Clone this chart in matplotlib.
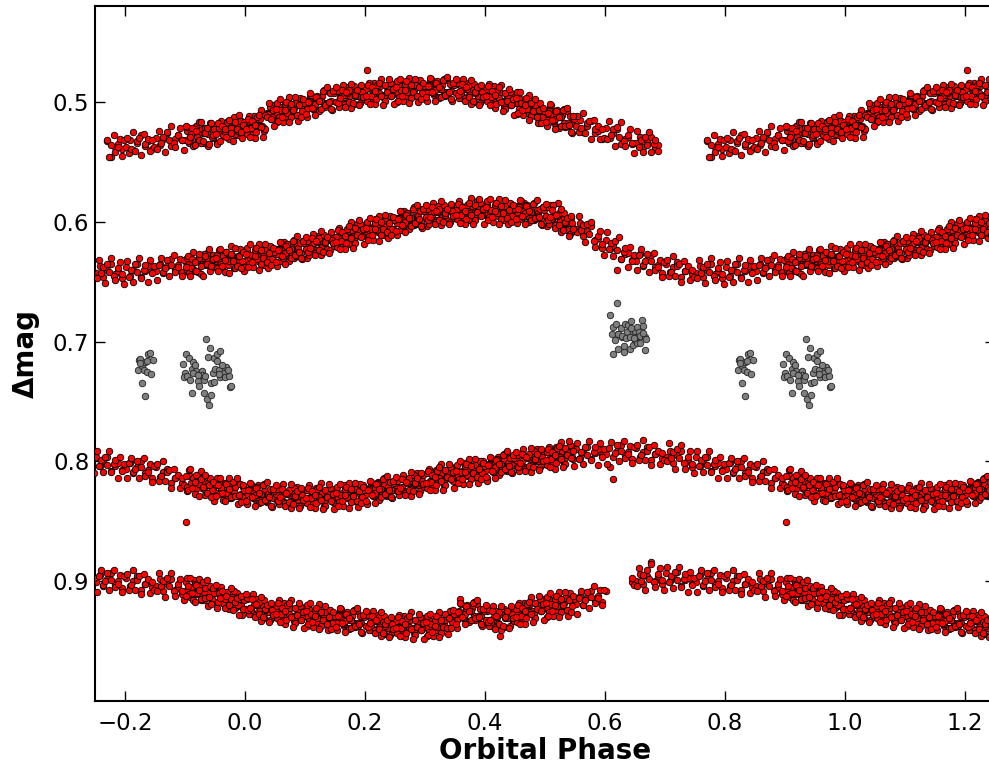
import numpy as np
import matplotlib
matplotlib.use("Agg")
import matplotlib.pyplot as plt

N = np.nan

# ---------------- observing run 1 ----------------
# phases in thousandths of the orbital period
PHASE1_MILLI = [
    1, 4, 8, 11, 15, 18, 22, 25, 29, 32, 36, 39, 43, 46,
    51, 54, 58, 61, 65, 68, 72, 75, 79, 82, 86, 89, 93, 96,
    101, 104, 108, 111, 115, 118, 122, 125, 129, 132, 136, 139, 143, 146,
    151, 154, 158, 161, 165, 168, 172, 175, 179, 182, 186, 189, 193, 196,
    201, 204, 208, 211, 215, 218, 222, 225, 229, 232, 236, 239, 243, 246,
    251, 254, 258, 261, 265, 268, 272, 275, 279, 282, 286, 289, 293, 296,
    301, 304, 308, 311, 315, 318, 322, 325, 329, 332, 336, 339, 343, 346,
    351, 354, 358, 361, 365, 368, 372, 375, 379, 382, 386, 389, 393, 396,
    401, 404, 408, 411, 415, 418, 422, 425, 429, 432, 436, 439, 443, 446,
    451, 454, 458, 461, 465, 468, 472, 475, 479, 482, 486, 489, 493, 496,
    501, 504, 508, 511, 515, 518, 522, 525, 529, 532, 536, 539, 543, 546,
    552, 558, 564, 570, 577, 583, 589, 595,
    602, 608, 614, 620, 627, 633, 639, 645,
    652, 658, 664, 670, 677, 683, 689, 695,
    702, 708, 714, 720, 727, 733, 739, 745,
    752, 758, 764, 770, 777, 783, 789, 795,
    802, 808, 814, 820, 827, 833, 839, 845,
    852, 858, 864, 870, 877, 883, 889, 895,
    901, 904, 908, 911, 915, 918, 922, 925, 929, 932, 936, 939, 943, 946,
    951, 954, 958, 961, 965, 968, 972, 975, 979, 982, 986, 989, 993, 996,
]

# delta mag (millimag) of the four light curves, NaN = no data
RUN1_CURVE1 = [
    517, 522, 527, 518, 512, 522, 519, 514, 520, 524, 509, 510, 514, 503,
    510, 517, 504, 510, 505, 512, 499, 506, 508, 502, 511, 503, 499, 505,
    501, 506, 496, 502, 506, 498, 507, 499, 495, 501, 491, 501, 499, 492,
    500, 492, 497, 502, 494, 488, 499, 495, 491, 502, 493, 495, 487, 498,
    489, 473, 500, 490, 484, 495, 492, 487, 494, 497, 488, 490, 495, 485,
    492, 500, 487, 492, 488, 495, 483, 490, 493, 487, 495, 488, 484, 491,
    487, 493, 483, 489, 494, 486, 496, 489, 486, 492, 482, 493, 491, 485,
    493, 485, 491, 497, 489, 484, 495, 492, 489, 500, 491, 495, 487, 498,
    489, 495, 501, 493, 487, 499, 496, 492, 499, 504, 495, 498, 503, 494,
    501, 510, 498, 504, 501, 509, 497, 505, 509, 504, 513, 507, 504, 512,
    508, 515, 505, 512, 518, 510, 521, 513, 511, 518, 508, 520, 518, 513,
    520, 515, 525, 520, 516, 526, 524, 531,
    522, 530, 526, 523, 535, 531, 529, 535,
    534, 529, 538, 533, 529, 538, 536, N,
    N, N, N, N, N, N, N, N,
    N, N, N, 533, 546, 538, 535, 539,
    538, 532, 540, 534, 528, 537, 533, 539,
    530, 536, 531, 526, 537, 531, 528, 532,
    532, 524, 529, 534, 526, 520, 531, 527, 523, 534, 525, 527, 519, 530,
    526, 534, 520, 526, 522, 528, 516, 523, 525, 519, 528, 520, 516, 523,
]
RUN1_CURVE2 = [
    633, 625, 630, 635, 627, 622, 633, 628, 625, 636, 627, 629, 621, 632,
    623, 627, 633, 624, 617, 628, 625, 619, 626, 630, 620, 622, 626, 616,
    623, 630, 617, 622, 618, 624, 612, 618, 621, 614, 623, 615, 611, 617,
    613, 618, 608, 613, 618, 609, 619, 610, 607, 612, 602, 612, 610, 603,
    611, 602, 608, 612, 604, 598, 609, 604, 601, 611, 602, 604, 596, 606,
    597, 601, 607, 598, 591, 602, 598, 593, 599, 603, 594, 595, 600, 589,
    596, 604, 591, 596, 592, 599, 587, 593, 596, 590, 599, 591, 587, 594,
    590, 596, 586, 592, 597, 589, 599, 590, 587, 593, 583, 594, 592, 586,
    594, 586, 592, 597, 589, 584, 595, 591, 588, 599, 590, 593, 585, 596,
    587, 592, 598, 590, 584, 595, 592, 588, 595, 599, 590, 593, 598, 588,
    595, 604, 586, 598, 595, 602, 584, 599, 603, 597, 607, 601, 597, 605,
    606, 601, 612, 608, 604, 615, 614, 622,
    615, 623, 620, 640, 631, 627, 626, 632,
    633, 627, 637, 632, 628, 638, 636, 643,
    635, 642, 638, 634, 646, 641, 639, 644,
    643, 637, 646, 640, 635, 644, 641, 647,
    638, 645, 640, 635, 646, 641, 637, 642,
    641, 635, 643, 637, 631, 640, 636, 642,
    634, 640, 630, 635, 640, 632, 642, 633, 630, 636, 626, 636, 634, 628,
    636, 628, 634, 638, 630, 625, 636, 631, 628, 639, 630, 632, 624, 635,
]
RUN1_CURVE3 = [
    827, 835, 823, 829, 825, 832, 820, 828, 831, 825, 834, 827, 824, 831,
    827, 833, 823, 829, 834, 826, 836, 828, 825, 831, 821, 832, 830, 824,
    832, 824, 830, 835, 827, 822, 833, 829, 826, 837, 828, 831, 823, 834,
    825, 830, 836, 826, 820, 831, 828, 822, 829, 833, 824, 825, 830, 820,
    827, 835, 821, 827, 823, 829, 817, 824, 826, 820, 829, 821, 817, 824,
    820, 825, 815, 821, 825, 817, 826, 818, 814, 820, 810, 820, 818, 811,
    819, 810, 816, 821, 812, 807, 817, 813, 810, 820, 811, 814, 805, 816,
    807, 811, 817, 808, 801, 812, 808, 803, 810, 813, 804, 806, 810, 800,
    807, 814, 801, 807, 802, 809, 796, 803, 806, 799, 808, 801, 796, 803,
    799, 805, 794, 800, 805, 796, 806, 798, 794, 800, 790, 800, 798, 792,
    800, 792, 797, 802, 794, 788, 799, 795, 791, 802, 793, 795, 787, 798,
    790, 797, 792, 788, 798, 793, 790, 795,
    794, 805, 815, 791, 786, 795, 792, 798,
    789, 796, 792, 788, 799, 794, 792, 797,
    796, 791, 801, 795, 791, 801, 798, 805,
    796, 804, 800, 796, 808, 804, 801, 807,
    806, 801, 810, 805, 800, 810, 807, 814,
    805, 813, 809, 806, 818, 814, 812, 818,
    851, 825, 812, 819, 815, 823, 811, 819, 822, 817, 826, 820, 816, 824,
    820, 826, 817, 823, 828, 821, 831, 823, 821, 827, 817, 829, 827, 821,
]
RUN1_CURVE4 = [
    923, 915, 922, 927, 920, 915, 926, 923, 920, 931, 923, 926, 919, 930,
    921, 926, 932, 924, 918, 929, 926, 922, 929, 933, 924, 927, 932, 922,
    929, 937, 924, 931, 927, 934, 922, 930, 933, 927, 936, 930, 926, 933,
    929, 935, 925, 932, 937, 929, 939, 932, 929, 935, 925, 937, 935, 929,
    937, 929, 935, 941, 933, 928, 939, 936, 933, 944, 935, 939, 931, 942,
    933, 938, 944, 935, 929, 940, 937, 932, 939, 943, 934, 936, 941, 931,
    938, 946, 933, 939, 935, 941, 929, 936, 939, 933, 939, 931, 925, 931,
    927, 932, 915, 927, 931, 923, 933, 925, 922, 929, 919, 931, 929, 924,
    932, 925, 932, 937, 930, 925, 935, 946, 927, 938, 928, 931, 922, 933,
    924, 928, 934, 924, 918, 928, 925, 919, 925, 929, 919, 921, 925, 915,
    922, 930, 916, 922, 918, 924, 912, 919, 921, 915, 924, 916, 912, 919,
    919, 912, 920, 913, 908, 916, 912, 917,
    908, N, N, N, N, N, N, 901,
    900, 894, 902, 896, 884, 900, 896, 902,
    893, 900, 896, 892, 904, 899, 897, 902,
    901, 895, 904, 898, 893, 903, 900, 906,
    897, 904, 900, 896, 907, 902, 900, 905,
    904, 898, 908, 902, 898, 907, 905, 911,
    901, 907, 913, 905, 899, 911, 908, 904, 911, 916, 907, 910, 915, 906,
    910, 917, 907, 914, 919, 912, 922, 915, 913, 919, 910, 921, 920, 915,
]

# ---------------- observing run 2 ----------------
PHASE2_MILLI = [
    3, 6, 10, 13, 17, 20, 24, 27, 31, 34, 38, 41, 45, 48,
    53, 56, 60, 63, 67, 70, 74, 77, 81, 84, 88, 91, 95, 98,
    103, 106, 110, 113, 117, 120, 124, 127, 131, 134, 138, 141, 145, 148,
    153, 156, 160, 163, 167, 170, 174, 177, 181, 184, 188, 191, 195, 198,
    203, 206, 210, 213, 217, 220, 224, 227, 231, 234, 238, 241, 245, 248,
    253, 256, 260, 263, 267, 270, 274, 277, 281, 284, 288, 291, 295, 298,
    303, 306, 310, 313, 317, 320, 324, 327, 331, 334, 338, 341, 345, 348,
    353, 356, 360, 363, 367, 370, 374, 377, 381, 384, 388, 391, 395, 398,
    403, 406, 410, 413, 417, 420, 424, 427, 431, 434, 438, 441, 445, 448,
    453, 456, 460, 463, 467, 470, 474, 477, 481, 484, 488, 491, 495, 498,
    503, 506, 510, 513, 517, 520, 524, 527, 531, 534, 538, 541, 545, 548,
    553, 556, 560, 563, 567, 570, 574, 577, 581, 584, 588, 591, 595, 598,
    603, 606, 610, 613, 617, 620, 624, 627, 631, 634, 638, 641, 645, 648,
    653, 656, 660, 663, 667, 670, 674, 677, 681, 684, 688, 691, 695, 698,
    703, 706, 710, 713, 717, 720, 724, 727, 731, 734, 738, 741, 745, 748,
    753, 756, 760, 763, 767, 770, 774, 777, 781, 784, 788, 791, 795, 798,
    803, 806, 810, 813, 817, 820, 824, 827, 831, 834, 838, 841, 845, 848,
    853, 856, 860, 863, 867, 870, 874, 877, 881, 884, 888, 891, 895, 898,
    903, 906, 910, 913, 917, 920, 924, 927, 931, 934, 938, 941, 945, 948,
    953, 956, 960, 963, 967, 970, 974, 977, 981, 984, 988, 991, 995, 998,
]
RUN2_CURVE1 = [
    527, 512, 522, 517, 530, 513, 520, 507, 522, 523, 510, 504, 513, 520,
    501, 513, 507, 517, 502, 509, 496, 513, 505, 501, 516, 497, 508, 501,
    513, 499, 494, 506, 502, 495, 508, 499, 490, 504, 501, 493, 507, 493,
    491, 504, 499, 486, 502, 493, 490, 505, 487, 495, 491, 501, 492, 498,
    499, 484, 495, 489, 502, 486, 493, 481, 496, 499, 489, 484, 494, 502,
    483, 496, 490, 499, 485, 492, 480, 497, 490, 486, 500, 482, 493, 487,
    499, 486, 481, 493, 490, 483, 497, 489, 481, 495, 492, 485, 499, 486,
    484, 497, 493, 481, 497, 489, 486, 502, 485, 493, 489, 501, 492, 498,
    499, 485, 496, 492, 505, 490, 497, 486, 501, 506, 496, 492, 502, 511,
    492, 506, 501, 511, 498, 506, 494, 512, 506, 503, 518, 501, 513, 508,
    520, 508, 503, 516, 514, 507, 522, 513, 506, 521, 518, 512, 526, 514,
    512, 525, 522, 509, 526, 518, 516, 531, 515, 523, 520, 531, 523, 530,
    531, 516, 528, 523, 537, 521, 529, 517, 533, 537, 528, 523, 534, 543,
    524, 538, 532, 542, 529, 536, 525, 542, 535, 532, 541, N, N, N,
    N, N, N, N, N, N, N, N, N, N, N, N, N, N,
    N, N, N, N, N, 532, 546, 536, 528, 542, 538, 531, 545, 532,
    530, 543, 539, 525, 541, 533, 530, 544, 527, 535, 531, 541, 532, 538,
    539, 524, 534, 529, 542, 525, 532, 520, 534, 538, 528, 522, 532, 540,
    521, 534, 527, 537, 523, 529, 517, 534, 526, 522, 537, 518, 529, 523,
    535, 522, 516, 528, 525, 517, 531, 522, 513, 527, 524, 516, 530, 517,
]
RUN2_CURVE2 = [
    622, 635, 628, 638, 624, 631, 619, 635, 628, 624, 639, 620, 631, 625,
    637, 623, 618, 630, 626, 619, 633, 623, 615, 629, 625, 618, 631, 618,
    616, 628, 624, 610, 626, 617, 614, 628, 611, 618, 614, 624, 615, 620,
    621, 605, 616, 610, 623, 606, 613, 600, 615, 618, 608, 602, 612, 619,
    600, 612, 606, 615, 601, 607, 595, 611, 604, 599, 614, 595, 606, 599,
    611, 597, 592, 604, 600, 593, 606, 597, 588, 602, 599, 591, 605, 591,
    589, 602, 598, 584, 600, 592, 589, 603, 586, 594, 590, 600, 591, 597,
    598, 583, 594, 589, 602, 586, 593, 580, 595, 599, 589, 584, 594, 602,
    583, 596, 590, 600, 586, 593, 581, 598, 591, 587, 602, 584, 595, 589,
    601, 588, 583, 596, 593, 586, 600, 592, 584, 598, 595, 589, 603, 590,
    588, 602, 598, 586, 603, 595, 593, 609, 593, 601, 598, 610, 601, 608,
    609, 595, 607, 603, 617, 602, 610, 600, 616, 621, 612, 608, 619, 628,
    609, 623, 618, 629, 616, 624, 613, 631, 625, 622, 638, 621, 633, 628,
    640, 628, 623, 636, 633, 627, 642, 633, 626, 640, 638, 632, 646, 634,
    632, 645, 642, 629, 645, 637, 635, 650, 633, 641, 637, 649, 640, 646,
    647, 632, 643, 638, 651, 635, 642, 630, 645, 649, 639, 634, 644, 652,
    633, 646, 640, 650, 635, 642, 630, 647, 640, 636, 650, 632, 643, 637,
    649, 636, 630, 642, 639, 632, 645, 636, 628, 642, 638, 631, 645, 632,
    630, 643, 639, 625, 641, 633, 630, 644, 627, 635, 631, 641, 632, 638,
    639, 624, 635, 629, 642, 626, 633, 620, 635, 639, 629, 623, 633, 641,
]
RUN2_CURVE3 = [
    836, 823, 819, 831, 828, 821, 835, 827, 819, 833, 830, 823, 838, 825,
    823, 836, 832, 819, 835, 827, 824, 839, 822, 830, 826, 837, 828, 834,
    835, 820, 831, 826, 839, 823, 830, 818, 833, 837, 827, 822, 832, 840,
    821, 834, 828, 837, 823, 830, 818, 834, 827, 823, 838, 819, 830, 824,
    836, 823, 817, 829, 826, 818, 832, 823, 814, 828, 825, 817, 831, 818,
    816, 828, 824, 811, 826, 818, 814, 829, 811, 819, 815, 825, 816, 821,
    822, 806, 817, 812, 824, 808, 814, 802, 817, 820, 810, 805, 814, 822,
    803, 815, 809, 819, 804, 811, 798, 815, 808, 803, 818, 800, 810, 804,
    816, 802, 797, 809, 805, 798, 811, 802, 794, 807, 804, 797, 810, 797,
    795, 808, 803, 790, 806, 797, 794, 809, 791, 799, 795, 805, 796, 802,
    803, 788, 798, 793, 806, 789, 796, 784, 798, 802, 792, 786, 796, 804,
    785, 798, 792, 802, 788, 795, 783, 799, 792, 788, 803, 785, 796, 790,
    802, 789, 784, 796, 793, 786, 800, 791, 783, 797, 794, 787, 801, 788,
    786, 799, 795, 782, 799, 791, 788, 803, 786, 794, 791, 802, 793, 799,
    800, 785, 797, 792, 806, 790, 797, 786, 801, 806, 796, 791, 802, 810,
    791, 804, 799, 809, 796, 803, 791, 809, 802, 799, 814, 796, 808, 802,
    814, 801, 797, 809, 806, 800, 814, 805, 797, 812, 809, 802, 817, 804,
    802, 816, 812, 800, 816, 809, 807, 822, 806, 814, 811, 822, 814, 820,
    821, 807, 818, 814, 827, 812, 819, 808, 823, 828, 818, 814, 824, 833,
    814, 827, 822, 832, 818, 826, 814, 831, 825, 821, 836, 819, 830, 824,
]
RUN2_CURVE4 = [
    914, 927, 924, 911, 928, 920, 917, 933, 916, 924, 921, 932, 924, 930,
    931, 916, 927, 923, 936, 920, 927, 916, 931, 935, 925, 921, 931, 939,
    920, 933, 927, 938, 924, 931, 919, 937, 930, 926, 941, 924, 935, 929,
    941, 928, 923, 936, 933, 926, 940, 932, 924, 938, 935, 929, 943, 930,
    928, 941, 937, 925, 941, 933, 930, 946, 929, 937, 933, 945, 936, 942,
    943, 928, 939, 934, 947, 931, 938, 926, 941, 945, 935, 930, 940, 948,
    929, 942, 936, 946, 932, 938, 926, 943, 936, 932, 944, 925, 934, 927,
    939, 925, 919, 931, 927, 920, 934, 925, 917, 932, 929, 923, 937, 925,
    923, 937, 934, 921, 938, 930, 926, 941, 923, 931, 926, 937, 927, 933,
    934, 918, 929, 923, 936, 919, 926, 913, 927, 931, 920, 915, 924, 932,
    913, 926, 919, 929, 915, 921, 909, 926, 918, 914, 929, 910, 921, 915,
    927, 914, 908, 920, 916, 909, 922, 913, 904, 918, 914, 907, 920, 907,
    N, N, N, N, N, N, N, N, N, N, N, N, 897, 903,
    904, 889, 900, 895, 907, 891, 898, 886, 901, 905, 894, 889, 899, 907,
    888, 901, 896, 906, 892, 899, 888, 905, 898, 894, 909, 892, 903, 897,
    909, 896, 891, 903, 900, 893, 907, 899, 891, 905, 902, 895, 909, 896,
    894, 907, 903, 891, 907, 899, 896, 911, 894, 902, 898, 910, 901, 907,
    908, 893, 904, 900, 913, 897, 904, 893, 908, 912, 902, 898, 908, 916,
    897, 911, 905, 916, 902, 910, 898, 916, 909, 906, 921, 904, 915, 910,
    922, 910, 905, 918, 915, 909, 923, 915, 908, 922, 920, 913, 928, 916,
]

# ---------------- observing run 3 (phases 0.90-1.55 only) ----------------
PHASE3_MILLI = [
    2, 5, 9, 12, 16, 19, 23, 26, 30, 33, 37, 40, 44, 47,
    52, 55, 59, 62, 66, 69, 73, 76, 80, 83, 87, 90, 94, 97,
    102, 105, 109, 112, 116, 119, 123, 126, 130, 133, 137, 140, 144, 147,
    152, 155, 159, 162, 166, 169, 173, 176, 180, 183, 187, 190, 194, 197,
    202, 205, 209, 212, 216, 219, 223, 226, 230, 233, 237, 240, 244, 247,
    252, 255, 259, 262, 266, 269, 273, 276, 280, 283, 287, 290, 294, 297,
    302, 305, 309, 312, 316, 319, 323, 326, 330, 333, 337, 340, 344, 347,
    352, 355, 359, 362, 366, 369, 373, 376, 380, 383, 387, 390, 394, 397,
    402, 405, 409, 412, 416, 419, 423, 426, 430, 433, 437, 440, 444, 447,
    452, 455, 459, 462, 466, 469, 473, 476, 480, 483, 487, 490, 494, 497,
    502, 505, 509, 512, 516, 519, 523, 526, 530, 533, 537, 540, 544, 547,
    902, 905, 909, 912, 916, 919, 923, 926, 930, 933, 937, 940, 944, 947,
    952, 955, 959, 962, 966, 969, 973, 976, 980, 983, 987, 990, 994, 997,
]
RUN3_CURVE1 = [
    523, 514, 529, 516, 519, 525, 511, 521, 529, 511, 513, 501, 514, 507,
    506, 516, 498, 513, 507, 500, 517, 502, 507, 496, 511, 503, 513, 498,
    510, 500, 493, 505, 511, 496, 499, 506, 491, 503, 488, 500, 506, 491,
    488, 501, 497, 490, 504, 492, 500, 485, 501, 494, 490, 503, 486, 496,
    495, 486, 502, 488, 491, 498, 484, 495, 503, 486, 492, 481, 495, 489,
    488, 499, 481, 495, 490, 483, 501, 486, 492, 481, 495, 488, 498, 484,
    496, 487, 480, 492, 499, 484, 488, 496, 482, 494, 479, 492, 498, 484,
    481, 494, 491, 485, 499, 488, 496, 482, 499, 492, 488, 503, 486, 496,
    495, 487, 503, 491, 494, 502, 488, 500, 508, 493, 499, 489, 503, 498,
    497, 509, 492, 507, 503, 497, 515, 501, 508, 498, 513, 507, 518, 505,
    517, 509, 502, 515, 523, 508, 513, 520, 507, 520, 505, 519, 525, 512,
    520, 533, 529, 522, 536, 524, 532, 517, 533, 526, 522, 535, 518, 528,
    527, 518, 533, 520, 523, 529, 515, 526, 533, 517, 523, 511, 525, 519,
]
RUN3_CURVE2 = [
    627, 638, 619, 634, 629, 622, 640, 624, 630, 619, 634, 626, 636, 622,
    634, 624, 617, 629, 635, 620, 624, 630, 616, 628, 612, 625, 630, 616,
    613, 625, 622, 614, 628, 616, 624, 608, 625, 617, 613, 626, 609, 618,
    617, 607, 623, 609, 612, 618, 604, 614, 622, 605, 611, 599, 613, 606,
    605, 615, 597, 611, 606, 598, 616, 600, 606, 594, 609, 601, 611, 596,
    608, 598, 591, 603, 609, 594, 597, 604, 589, 601, 586, 598, 604, 589,
    586, 599, 596, 588, 602, 591, 599, 583, 600, 593, 589, 602, 585, 595,
    594, 585, 601, 588, 591, 598, 584, 594, 602, 586, 592, 581, 595, 589,
    588, 599, 581, 596, 591, 584, 602, 587, 593, 582, 597, 590, 600, 586,
    598, 589, 582, 595, 602, 587, 591, 599, 585, 597, 582, 596, 602, 588,
    585, 599, 596, 590, 605, 594, 603, 589, 607, 600, 597, 612, 595, 606,
    638, 629, 645, 631, 634, 641, 627, 637, 645, 629, 635, 623, 637, 631,
    630, 641, 623, 637, 632, 625, 643, 627, 633, 622, 637, 629, 639, 625,
]
RUN3_CURVE3 = [
    833, 824, 818, 830, 837, 822, 826, 834, 820, 832, 817, 830, 837, 823,
    820, 833, 830, 823, 837, 826, 834, 819, 836, 829, 825, 839, 822, 832,
    831, 822, 838, 825, 828, 835, 821, 832, 840, 824, 830, 819, 833, 827,
    826, 837, 819, 833, 828, 821, 839, 823, 829, 818, 833, 825, 835, 821,
    833, 824, 816, 828, 835, 819, 823, 830, 815, 827, 812, 824, 830, 816,
    813, 825, 822, 815, 828, 817, 824, 809, 825, 818, 814, 827, 810, 819,
    818, 808, 824, 811, 813, 820, 805, 816, 824, 807, 813, 802, 815, 809,
    808, 818, 800, 815, 809, 802, 819, 804, 810, 798, 813, 806, 815, 801,
    813, 803, 796, 808, 814, 799, 802, 809, 795, 806, 791, 804, 809, 795,
    792, 805, 801, 794, 808, 796, 804, 789, 805, 798, 794, 807, 790, 800,
    799, 790, 805, 792, 795, 801, 787, 798, 805, 789, 795, 783, 797, 791,
    812, 824, 806, 822, 817, 811, 829, 815, 821, 811, 826, 820, 830, 817,
    829, 820, 814, 826, 833, 819, 823, 830, 817, 829, 814, 828, 834, 820,
]
RUN3_CURVE4 = [
    911, 924, 922, 915, 930, 919, 927, 913, 930, 923, 920, 934, 918, 928,
    927, 918, 934, 922, 925, 932, 918, 930, 938, 922, 928, 918, 932, 926,
    925, 936, 918, 934, 929, 922, 940, 926, 932, 921, 936, 930, 940, 926,
    938, 929, 922, 935, 942, 927, 931, 939, 925, 937, 922, 936, 942, 928,
    925, 938, 935, 929, 943, 932, 940, 926, 943, 936, 932, 947, 930, 940,
    939, 930, 946, 933, 936, 943, 929, 940, 948, 932, 938, 927, 941, 935,
    934, 945, 927, 942, 937, 929, 947, 932, 938, 927, 939, 931, 939, 924,
    936, 926, 918, 930, 936, 921, 925, 932, 918, 931, 916, 930, 936, 923,
    920, 934, 932, 925, 940, 929, 936, 921, 937, 930, 925, 939, 921, 931,
    930, 920, 936, 922, 925, 931, 917, 927, 934, 918, 923, 912, 925, 919,
    918, 929, 910, 925, 920, 912, 930, 915, 920, 909, 924, 916, 926, 912,
    912, 904, 897, 910, 917, 903, 907, 915, 901, 914, 899, 913, 919, 906,
    903, 917, 914, 908, 922, 912, 920, 906, 924, 917, 914, 928, 912, 923,
]

# ---------------- rejected (grey) points ----------------
GREY_PHASE = [
    0.821, 0.823, 0.825, 0.828, 0.831, 0.833, 0.836, 0.839, 0.842, 0.843, 0.846, 0.828, 0.833, 0.837, 0.825,
    0.897, 0.902, 0.906, 0.900, 0.898, 0.904, 0.908, 0.911, 0.914, 0.917, 0.919, 0.921, 0.924, 0.925,
    0.928, 0.929, 0.932, 0.933, 0.911, 0.931, 0.936, 0.940, 0.944, 0.935, 0.942, 0.939, 0.948, 0.953,
    0.958, 0.946, 0.943, 0.948, 0.950, 0.954, 0.957, 0.959, 0.963, 0.965, 0.967, 0.969, 0.971, 0.974,
    0.975, 0.977, 0.961, 0.956, 0.914, 0.922,
    0.620, 0.608, 0.614, 0.611, 0.618, 0.622, 0.626, 0.629, 0.633, 0.637, 0.639, 0.644, 0.646, 0.650,
    0.653, 0.656, 0.658, 0.661, 0.664, 0.667, 0.669, 0.617, 0.622, 0.631, 0.632, 0.641, 0.647, 0.650,
    0.654, 0.658, 0.667, 0.614, 0.621, 0.628, 0.635, 0.642, 0.648, 0.664, 0.644,
]
GREY_MAG = [
    0.7235, 0.7158, 0.7144, 0.7205, 0.7241, 0.7172, 0.7255, 0.7103, 0.7097, 0.7274, 0.7152, 0.7343, 0.7454, 0.7166, 0.718,
    0.719, 0.710, 0.714, 0.726, 0.730, 0.729, 0.732, 0.723, 0.717, 0.720, 0.725, 0.733, 0.737, 0.727,
    0.725, 0.728, 0.732, 0.729, 0.743, 0.743, 0.748, 0.753, 0.745, 0.698, 0.705, 0.713, 0.714, 0.710,
    0.708, 0.726, 0.735, 0.734, 0.723, 0.716, 0.724, 0.730, 0.727, 0.726, 0.730, 0.721, 0.724, 0.729,
    0.738, 0.737, 0.720, 0.727, 0.726, 0.728,
    0.668, 0.678, 0.688, 0.694, 0.685, 0.694, 0.689, 0.696, 0.685, 0.692, 0.686, 0.683, 0.693, 0.691,
    0.688, 0.692, 0.695, 0.682, 0.687, 0.696, 0.698, 0.699, 0.706, 0.704, 0.709, 0.706, 0.703, 0.699,
    0.701, 0.701, 0.707, 0.710, 0.694, 0.695, 0.697, 0.696, 0.697, 0.693, 0.689,
]

X_TICKS = [-0.2, 0.0, 0.2, 0.4, 0.6, 0.8, 1.0, 1.2]
Y_TICKS = [0.5, 0.6, 0.7, 0.8, 0.9]

plt.rcParams['font.family'] = ['DejaVu Sans']
plt.rcParams['axes.unicode_minus'] = True

W, H = 989, 772
fig = plt.figure(figsize=(W / 100, H / 100), dpi=100)
ax = fig.add_axes([95 / W, 71 / H, 900 / W, 695 / H])


def folded(ph, vals):
    """repeat a phase-folded curve over neighbouring cycles"""
    ph = np.asarray(ph, dtype=float)
    vals = np.asarray(vals, dtype=float)
    return (np.concatenate([ph - 1, ph, ph + 1]),
            np.concatenate([vals, vals, vals]))


runs = [
    (PHASE1_MILLI, [RUN1_CURVE1, RUN1_CURVE2, RUN1_CURVE3, RUN1_CURVE4]),
    (PHASE2_MILLI, [RUN2_CURVE1, RUN2_CURVE2, RUN2_CURVE3, RUN2_CURVE4]),
    (PHASE3_MILLI, [RUN3_CURVE1, RUN3_CURVE2, RUN3_CURVE3, RUN3_CURVE4]),
]
for ph_milli, curves in runs:
    ph = np.array(ph_milli) / 1000.0
    for curve in curves:
        xs, ys = folded(ph, np.array(curve, dtype=float) / 1000.0)
        ax.scatter(xs, ys, s=22, c='#ff0000', edgecolors='black',
                   linewidths=0.6, zorder=3)

gx, gy = folded(GREY_PHASE, GREY_MAG)
ax.scatter(gx, gy, s=22, c='#7f7f7f', edgecolors='#222222', linewidths=0.6, zorder=3)

ax.set_xlim(-0.25, 1.25)
ax.set_ylim(1.0, 0.42)
ax.set_xticks(X_TICKS)
ax.set_yticks(Y_TICKS)
ax.set_xticklabels([f"{v:.1f}".replace('-', '\u2212') for v in X_TICKS])
ax.set_yticklabels([f"{v:.1f}" for v in Y_TICKS])

ax.tick_params(axis='both', which='major', direction='in', length=7, width=1.0,
               top=True, right=True, labelsize=16.5)
ax.tick_params(axis='x', pad=8)
ax.tick_params(axis='y', pad=4)
for sp in ax.spines.values():
    sp.set_linewidth(1.5)

ax.set_xlabel('Orbital Phase', fontsize=20, fontweight='bold')
ax.set_ylabel('\u0394mag', fontsize=20, fontweight='bold')
ax.xaxis.set_label_coords(0.5, -0.052)
ax.yaxis.set_label_coords(-0.061, 0.5)

fig.savefig('out.png', dpi=100)
